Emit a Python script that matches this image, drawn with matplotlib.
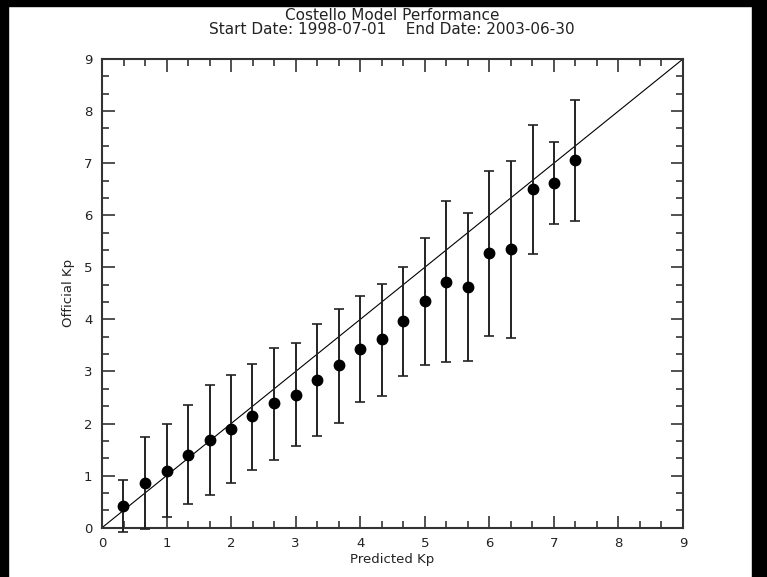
import matplotlib
matplotlib.use("Agg")
import matplotlib.pyplot as plt
from matplotlib.patches import Rectangle
from matplotlib.ticker import MultipleLocator

# Kp predicho (tercios) y Kp oficial medio con su dispersión
predicho = [0.33, 0.67, 1.0, 1.33, 1.67, 2.0, 2.33, 2.67, 3.0, 3.33, 3.67,
            4.0, 4.33, 4.67, 5.0, 5.33, 5.67, 6.0, 6.33, 6.67, 7.0, 7.33]
oficial = [0.42, 0.85, 1.09, 1.40, 1.68, 1.90, 2.14, 2.39, 2.55, 2.84, 3.12,
           3.44, 3.62, 3.97, 4.36, 4.72, 4.62, 5.27, 5.35, 6.50, 6.62, 7.06]
superior = [0.92, 1.74, 1.99, 2.36, 2.74, 2.94, 3.14, 3.46, 3.54, 3.92, 4.20,
            4.45, 4.68, 5.01, 5.57, 6.28, 6.04, 6.84, 7.04, 7.73, 7.40, 8.21]
inferior = [-0.08, -0.03, 0.21, 0.46, 0.62, 0.85, 1.10, 1.30, 1.57, 1.77, 2.02,
            2.41, 2.53, 2.92, 3.12, 3.18, 3.21, 3.69, 3.64, 5.25, 5.84, 5.89]

titulo = "Costello Model Performance"
subtitulo = "Start Date: 1998-07-01    End Date: 2003-06-30"

W, H = 767, 577
fig = plt.figure(figsize=(W / 100, H / 100), dpi=100, facecolor="white")

# franjas negras del borde (captura de pantalla)
for x0, y0, w, h in [(0, H - 6, W, 6), (0, 0, 8, H), (752, 0, 15, H)]:
    fig.patches.append(Rectangle((x0 / W, y0 / H), w / W, h / H,
                                 transform=fig.transFigure, color="black", zorder=10))

ax = fig.add_axes([102 / W, (H - 527.7) / H, 581 / W, 468.7 / H])

err_bajo = [o - i for o, i in zip(oficial, inferior)]
err_alto = [s - o for s, o in zip(superior, oficial)]
ax.errorbar(predicho, oficial, yerr=[err_bajo, err_alto], fmt="o", color="black",
            ecolor="#222222", elinewidth=1.4, capsize=3.5, capthick=1.2,
            markersize=7.5, clip_on=False, zorder=3)
ax.plot([0, 9], [0, 9], color="black", linewidth=0.8, zorder=2)

ax.set_xlim(0, 9)
ax.set_ylim(0, 9)
for eje in (ax.xaxis, ax.yaxis):
    eje.set_major_locator(MultipleLocator(1))
    eje.set_minor_locator(MultipleLocator(1 / 3))
ax.tick_params(which="both", direction="in", top=True, right=True,
               colors="#333333", labelcolor="#222222", labelsize=9.5, width=1.2)
ax.tick_params(which="major", length=9, pad=7)
ax.tick_params(which="minor", length=5)
for lado in ax.spines.values():
    lado.set_linewidth(1.5)
    lado.set_color("#333333")

ax.set_xlabel("Predicted Kp", fontsize=9.5, color="#222222", labelpad=2)
ax.set_ylabel("Official Kp", fontsize=9.5, color="#222222", labelpad=6)

fig.text(392 / W, 1 - 15 / H, titulo, ha="center", va="center", fontsize=11, color="#222222")
fig.text(392 / W, 1 - 29 / H, subtitulo, ha="center", va="center", fontsize=11, color="#222222")

fig.savefig("out.png", dpi=100, facecolor="white")
